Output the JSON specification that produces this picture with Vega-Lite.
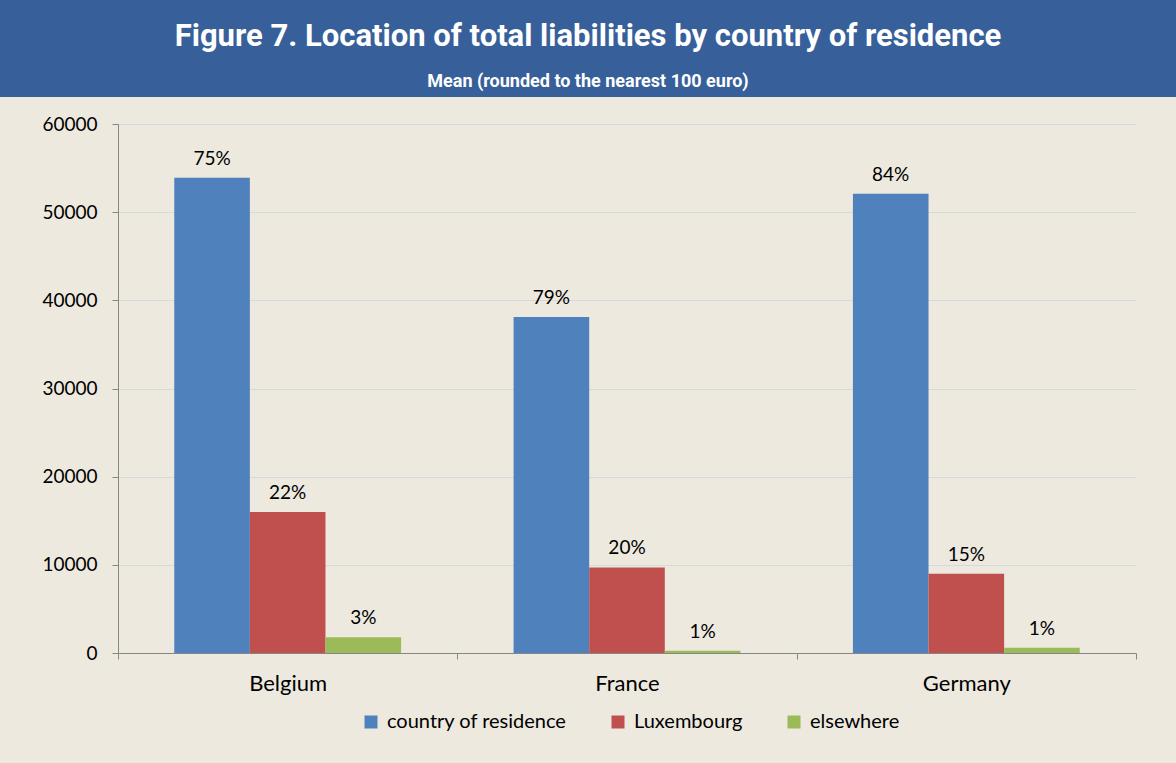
{
  "$schema": "https://vega.github.io/schema/vega-lite/v6.json",
  "background": "#EDE9DF",
  "padding": 0,
  "spacing": 0,
  "bounds": "flush",
  "config": {"view": {"stroke": null}, "font": "Lato"},
  "data": {
    "values": [
      {"country": "Belgium", "location": "country of residence", "value": 53900, "label": "75%"},
      {"country": "Belgium", "location": "Luxembourg", "value": 16000, "label": "22%"},
      {"country": "Belgium", "location": "elsewhere", "value": 1800, "label": "3%"},
      {"country": "France", "location": "country of residence", "value": 38100, "label": "79%"},
      {"country": "France", "location": "Luxembourg", "value": 9700, "label": "20%"},
      {"country": "France", "location": "elsewhere", "value": 250, "label": "1%"},
      {"country": "Germany", "location": "country of residence", "value": 52100, "label": "84%"},
      {"country": "Germany", "location": "Luxembourg", "value": 9000, "label": "15%"},
      {"country": "Germany", "location": "elsewhere", "value": 600, "label": "1%"}
    ]
  },
  "vconcat": [
    {
      "width": 1176,
      "height": 97,
      "view": {"fill": "#37609A", "stroke": null},
      "title": {
        "text": "Figure 7. Location of  total liabilities by country of residence",
        "subtitle": "Mean (rounded to the nearest 100 euro)",
        "anchor": "middle",
        "orient": "top",
        "offset": -92,
        "color": "#FFFFFF",
        "subtitleColor": "#FFFFFF",
        "font": "Roboto",
        "subtitleFont": "Roboto",
        "fontSize": 31,
        "fontWeight": "bold",
        "subtitleFontSize": 18,
        "subtitleFontWeight": "bold",
        "subtitlePadding": 20
      },
      "mark": {"type": "text"},
      "encoding": {"text": {"value": ""}}
    },
    {
      "width": 1176,
      "height": 666,
      "encoding": {
        "x": {
          "field": "country",
          "type": "nominal",
          "sort": ["Belgium", "France", "Germany"],
          "scale": {"range": [118, 1136], "paddingInner": 0, "paddingOuter": 0},
          "axis": {
            "orient": "bottom",
            "offset": -110,
            "title": null,
            "tickBand": "extent",
            "tickSize": 6,
            "domainColor": "#868686",
            "tickColor": "#868686",
            "labelFontSize": 22,
            "labelAngle": 0,
            "labelPadding": 14,
            "labelColor": "#000000",
            "labelFont": "Lato"
          }
        },
        "xOffset": {
          "field": "location",
          "type": "nominal",
          "sort": ["country of residence", "Luxembourg", "elsewhere"],
          "scale": {"paddingInner": 0, "paddingOuter": 0.744}
        },
        "y": {
          "field": "value",
          "type": "quantitative",
          "scale": {"domain": [0, 60000], "range": [556, 27], "nice": false},
          "axis": {
            "values": [0, 10000, 20000, 30000, 40000, 50000, 60000],
            "format": "d",
            "offset": -118,
            "title": null,
            "grid": true,
            "gridColor": "#D5D9DC",
            "domainColor": "#868686",
            "tickColor": "#868686",
            "tickSize": 6,
            "labelFontSize": 19,
            "labelColor": "#000000",
            "labelPadding": 15,
            "labelFont": "Lato"
          }
        }
      },
      "layer": [
        {
          "mark": {"type": "bar"},
          "encoding": {
            "color": {
              "field": "location",
              "type": "nominal",
              "scale": {
                "domain": ["country of residence", "Luxembourg", "elsewhere"],
                "range": ["#4F81BD", "#C0504D", "#9BBB59"]
              },
              "legend": {
                "orient": "none",
                "legendX": 361,
                "legendY": 712,
                "direction": "horizontal",
                "title": null,
                "symbolType": "square",
                "symbolSize": 169,
                "symbolStrokeWidth": 0,
                "labelFontSize": 20,
                "labelFont": "Lato",
                "labelColor": "#000000",
                "labelOffset": 6,
                "labelLimit": 400,
                "columnPadding": 41,
                "padding": 0
              }
            }
          }
        },
        {
          "mark": {"type": "text", "baseline": "bottom", "dy": -9, "fontSize": 19, "font": "Lato", "color": "#000000"},
          "encoding": {"text": {"field": "label"}}
        }
      ]
    }
  ]
}
